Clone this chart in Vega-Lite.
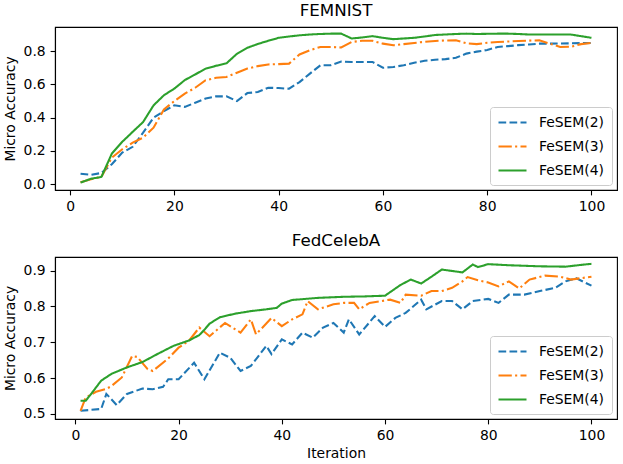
{
  "$schema": "https://vega.github.io/schema/vega-lite/v6.json",
  "padding": {"left": 2, "top": 2, "right": 5, "bottom": 3},
  "background": "white",
  "spacing": 17,
  "config": {
    "font": "DejaVu Sans",
    "view": {"stroke": "black", "strokeWidth": 1.1},
    "title": {"font": "DejaVu Sans", "fontSize": 16.7, "fontWeight": "normal", "color": "black", "offset": 7},
    "axis": {
      "grid": false, "domainColor": "black", "domainWidth": 1.1,
      "tickColor": "black", "tickSize": 4.9, "tickWidth": 1.1,
      "labelFont": "DejaVu Sans", "labelFontSize": 13.9, "labelColor": "black", "labelPadding": 4.9,
      "titleFont": "DejaVu Sans", "titleFontSize": 13.9, "titleFontWeight": "normal", "titleColor": "black"
    },
    "legend": {
      "orient": "bottom-right", "offset": 5.5, "title": null,
      "fillColor": "rgba(255,255,255,0.8)", "strokeColor": "#cccccc", "cornerRadius": 3, "padding": 7,
      "symbolType": "M-1,0H3", "symbolSize": 196, "symbolStrokeWidth": 2.08,
      "labelFont": "DejaVu Sans", "labelFontSize": 13.9, "labelColor": "black", "labelOffset": 25, "rowPadding": 8
    }
  },
  "data": {"values": [
    {"panel":"FEMNIST","method":"FeSEM(2)","iteration":2,"accuracy":0.063},
    {"panel":"FEMNIST","method":"FeSEM(2)","iteration":4,"accuracy":0.057},
    {"panel":"FEMNIST","method":"FeSEM(2)","iteration":6,"accuracy":0.068},
    {"panel":"FEMNIST","method":"FeSEM(2)","iteration":8,"accuracy":0.12},
    {"panel":"FEMNIST","method":"FeSEM(2)","iteration":10,"accuracy":0.19},
    {"panel":"FEMNIST","method":"FeSEM(2)","iteration":12,"accuracy":0.225},
    {"panel":"FEMNIST","method":"FeSEM(2)","iteration":14,"accuracy":0.31},
    {"panel":"FEMNIST","method":"FeSEM(2)","iteration":16,"accuracy":0.40},
    {"panel":"FEMNIST","method":"FeSEM(2)","iteration":18,"accuracy":0.44},
    {"panel":"FEMNIST","method":"FeSEM(2)","iteration":20,"accuracy":0.475},
    {"panel":"FEMNIST","method":"FeSEM(2)","iteration":22,"accuracy":0.465},
    {"panel":"FEMNIST","method":"FeSEM(2)","iteration":24,"accuracy":0.49},
    {"panel":"FEMNIST","method":"FeSEM(2)","iteration":26,"accuracy":0.515},
    {"panel":"FEMNIST","method":"FeSEM(2)","iteration":28,"accuracy":0.528},
    {"panel":"FEMNIST","method":"FeSEM(2)","iteration":30,"accuracy":0.528},
    {"panel":"FEMNIST","method":"FeSEM(2)","iteration":32,"accuracy":0.50},
    {"panel":"FEMNIST","method":"FeSEM(2)","iteration":34,"accuracy":0.548},
    {"panel":"FEMNIST","method":"FeSEM(2)","iteration":36,"accuracy":0.554},
    {"panel":"FEMNIST","method":"FeSEM(2)","iteration":38,"accuracy":0.58},
    {"panel":"FEMNIST","method":"FeSEM(2)","iteration":40,"accuracy":0.578},
    {"panel":"FEMNIST","method":"FeSEM(2)","iteration":42,"accuracy":0.574},
    {"panel":"FEMNIST","method":"FeSEM(2)","iteration":44,"accuracy":0.614},
    {"panel":"FEMNIST","method":"FeSEM(2)","iteration":46,"accuracy":0.665},
    {"panel":"FEMNIST","method":"FeSEM(2)","iteration":48,"accuracy":0.715},
    {"panel":"FEMNIST","method":"FeSEM(2)","iteration":50,"accuracy":0.715},
    {"panel":"FEMNIST","method":"FeSEM(2)","iteration":52,"accuracy":0.737},
    {"panel":"FEMNIST","method":"FeSEM(2)","iteration":54,"accuracy":0.735},
    {"panel":"FEMNIST","method":"FeSEM(2)","iteration":56,"accuracy":0.735},
    {"panel":"FEMNIST","method":"FeSEM(2)","iteration":58,"accuracy":0.735},
    {"panel":"FEMNIST","method":"FeSEM(2)","iteration":60,"accuracy":0.70},
    {"panel":"FEMNIST","method":"FeSEM(2)","iteration":62,"accuracy":0.705},
    {"panel":"FEMNIST","method":"FeSEM(2)","iteration":64,"accuracy":0.715},
    {"panel":"FEMNIST","method":"FeSEM(2)","iteration":66,"accuracy":0.73},
    {"panel":"FEMNIST","method":"FeSEM(2)","iteration":68,"accuracy":0.742},
    {"panel":"FEMNIST","method":"FeSEM(2)","iteration":70,"accuracy":0.748},
    {"panel":"FEMNIST","method":"FeSEM(2)","iteration":72,"accuracy":0.752},
    {"panel":"FEMNIST","method":"FeSEM(2)","iteration":74,"accuracy":0.76},
    {"panel":"FEMNIST","method":"FeSEM(2)","iteration":76,"accuracy":0.785},
    {"panel":"FEMNIST","method":"FeSEM(2)","iteration":78,"accuracy":0.797},
    {"panel":"FEMNIST","method":"FeSEM(2)","iteration":80,"accuracy":0.807},
    {"panel":"FEMNIST","method":"FeSEM(2)","iteration":82,"accuracy":0.825},
    {"panel":"FEMNIST","method":"FeSEM(2)","iteration":84,"accuracy":0.83},
    {"panel":"FEMNIST","method":"FeSEM(2)","iteration":86,"accuracy":0.836},
    {"panel":"FEMNIST","method":"FeSEM(2)","iteration":88,"accuracy":0.84},
    {"panel":"FEMNIST","method":"FeSEM(2)","iteration":90,"accuracy":0.845},
    {"panel":"FEMNIST","method":"FeSEM(2)","iteration":92,"accuracy":0.845},
    {"panel":"FEMNIST","method":"FeSEM(2)","iteration":94,"accuracy":0.846},
    {"panel":"FEMNIST","method":"FeSEM(2)","iteration":96,"accuracy":0.847},
    {"panel":"FEMNIST","method":"FeSEM(2)","iteration":98,"accuracy":0.848},
    {"panel":"FEMNIST","method":"FeSEM(2)","iteration":100,"accuracy":0.849},

    {"panel":"FEMNIST","method":"FeSEM(3)","iteration":2,"accuracy":0.012},
    {"panel":"FEMNIST","method":"FeSEM(3)","iteration":4,"accuracy":0.03},
    {"panel":"FEMNIST","method":"FeSEM(3)","iteration":6,"accuracy":0.045},
    {"panel":"FEMNIST","method":"FeSEM(3)","iteration":8,"accuracy":0.16},
    {"panel":"FEMNIST","method":"FeSEM(3)","iteration":10,"accuracy":0.21},
    {"panel":"FEMNIST","method":"FeSEM(3)","iteration":12,"accuracy":0.25},
    {"panel":"FEMNIST","method":"FeSEM(3)","iteration":14,"accuracy":0.28},
    {"panel":"FEMNIST","method":"FeSEM(3)","iteration":16,"accuracy":0.34},
    {"panel":"FEMNIST","method":"FeSEM(3)","iteration":18,"accuracy":0.45},
    {"panel":"FEMNIST","method":"FeSEM(3)","iteration":20,"accuracy":0.50},
    {"panel":"FEMNIST","method":"FeSEM(3)","iteration":22,"accuracy":0.545},
    {"panel":"FEMNIST","method":"FeSEM(3)","iteration":24,"accuracy":0.58},
    {"panel":"FEMNIST","method":"FeSEM(3)","iteration":26,"accuracy":0.625},
    {"panel":"FEMNIST","method":"FeSEM(3)","iteration":28,"accuracy":0.64},
    {"panel":"FEMNIST","method":"FeSEM(3)","iteration":30,"accuracy":0.645},
    {"panel":"FEMNIST","method":"FeSEM(3)","iteration":32,"accuracy":0.67},
    {"panel":"FEMNIST","method":"FeSEM(3)","iteration":34,"accuracy":0.695},
    {"panel":"FEMNIST","method":"FeSEM(3)","iteration":36,"accuracy":0.71},
    {"panel":"FEMNIST","method":"FeSEM(3)","iteration":38,"accuracy":0.72},
    {"panel":"FEMNIST","method":"FeSEM(3)","iteration":40,"accuracy":0.722},
    {"panel":"FEMNIST","method":"FeSEM(3)","iteration":42,"accuracy":0.725},
    {"panel":"FEMNIST","method":"FeSEM(3)","iteration":44,"accuracy":0.78},
    {"panel":"FEMNIST","method":"FeSEM(3)","iteration":46,"accuracy":0.805},
    {"panel":"FEMNIST","method":"FeSEM(3)","iteration":48,"accuracy":0.825},
    {"panel":"FEMNIST","method":"FeSEM(3)","iteration":50,"accuracy":0.825},
    {"panel":"FEMNIST","method":"FeSEM(3)","iteration":52,"accuracy":0.822},
    {"panel":"FEMNIST","method":"FeSEM(3)","iteration":54,"accuracy":0.855},
    {"panel":"FEMNIST","method":"FeSEM(3)","iteration":56,"accuracy":0.862},
    {"panel":"FEMNIST","method":"FeSEM(3)","iteration":58,"accuracy":0.862},
    {"panel":"FEMNIST","method":"FeSEM(3)","iteration":60,"accuracy":0.845},
    {"panel":"FEMNIST","method":"FeSEM(3)","iteration":62,"accuracy":0.835},
    {"panel":"FEMNIST","method":"FeSEM(3)","iteration":64,"accuracy":0.842},
    {"panel":"FEMNIST","method":"FeSEM(3)","iteration":66,"accuracy":0.849},
    {"panel":"FEMNIST","method":"FeSEM(3)","iteration":68,"accuracy":0.856},
    {"panel":"FEMNIST","method":"FeSEM(3)","iteration":70,"accuracy":0.861},
    {"panel":"FEMNIST","method":"FeSEM(3)","iteration":72,"accuracy":0.864},
    {"panel":"FEMNIST","method":"FeSEM(3)","iteration":74,"accuracy":0.865},
    {"panel":"FEMNIST","method":"FeSEM(3)","iteration":76,"accuracy":0.847},
    {"panel":"FEMNIST","method":"FeSEM(3)","iteration":78,"accuracy":0.842},
    {"panel":"FEMNIST","method":"FeSEM(3)","iteration":80,"accuracy":0.85},
    {"panel":"FEMNIST","method":"FeSEM(3)","iteration":82,"accuracy":0.855},
    {"panel":"FEMNIST","method":"FeSEM(3)","iteration":84,"accuracy":0.858},
    {"panel":"FEMNIST","method":"FeSEM(3)","iteration":86,"accuracy":0.861},
    {"panel":"FEMNIST","method":"FeSEM(3)","iteration":88,"accuracy":0.863},
    {"panel":"FEMNIST","method":"FeSEM(3)","iteration":90,"accuracy":0.865},
    {"panel":"FEMNIST","method":"FeSEM(3)","iteration":92,"accuracy":0.845},
    {"panel":"FEMNIST","method":"FeSEM(3)","iteration":94,"accuracy":0.825},
    {"panel":"FEMNIST","method":"FeSEM(3)","iteration":96,"accuracy":0.826},
    {"panel":"FEMNIST","method":"FeSEM(3)","iteration":98,"accuracy":0.842},
    {"panel":"FEMNIST","method":"FeSEM(3)","iteration":100,"accuracy":0.849},

    {"panel":"FEMNIST","method":"FeSEM(4)","iteration":2,"accuracy":0.01},
    {"panel":"FEMNIST","method":"FeSEM(4)","iteration":4,"accuracy":0.033},
    {"panel":"FEMNIST","method":"FeSEM(4)","iteration":6,"accuracy":0.044},
    {"panel":"FEMNIST","method":"FeSEM(4)","iteration":8,"accuracy":0.184},
    {"panel":"FEMNIST","method":"FeSEM(4)","iteration":10,"accuracy":0.255},
    {"panel":"FEMNIST","method":"FeSEM(4)","iteration":12,"accuracy":0.315},
    {"panel":"FEMNIST","method":"FeSEM(4)","iteration":14,"accuracy":0.374},
    {"panel":"FEMNIST","method":"FeSEM(4)","iteration":16,"accuracy":0.474},
    {"panel":"FEMNIST","method":"FeSEM(4)","iteration":18,"accuracy":0.535},
    {"panel":"FEMNIST","method":"FeSEM(4)","iteration":20,"accuracy":0.575},
    {"panel":"FEMNIST","method":"FeSEM(4)","iteration":22,"accuracy":0.626},
    {"panel":"FEMNIST","method":"FeSEM(4)","iteration":24,"accuracy":0.66},
    {"panel":"FEMNIST","method":"FeSEM(4)","iteration":26,"accuracy":0.695},
    {"panel":"FEMNIST","method":"FeSEM(4)","iteration":28,"accuracy":0.712},
    {"panel":"FEMNIST","method":"FeSEM(4)","iteration":30,"accuracy":0.727},
    {"panel":"FEMNIST","method":"FeSEM(4)","iteration":32,"accuracy":0.784},
    {"panel":"FEMNIST","method":"FeSEM(4)","iteration":34,"accuracy":0.82},
    {"panel":"FEMNIST","method":"FeSEM(4)","iteration":36,"accuracy":0.843},
    {"panel":"FEMNIST","method":"FeSEM(4)","iteration":38,"accuracy":0.862},
    {"panel":"FEMNIST","method":"FeSEM(4)","iteration":40,"accuracy":0.88},
    {"panel":"FEMNIST","method":"FeSEM(4)","iteration":42,"accuracy":0.888},
    {"panel":"FEMNIST","method":"FeSEM(4)","iteration":44,"accuracy":0.895},
    {"panel":"FEMNIST","method":"FeSEM(4)","iteration":46,"accuracy":0.9},
    {"panel":"FEMNIST","method":"FeSEM(4)","iteration":48,"accuracy":0.903},
    {"panel":"FEMNIST","method":"FeSEM(4)","iteration":50,"accuracy":0.905},
    {"panel":"FEMNIST","method":"FeSEM(4)","iteration":52,"accuracy":0.905},
    {"panel":"FEMNIST","method":"FeSEM(4)","iteration":54,"accuracy":0.876},
    {"panel":"FEMNIST","method":"FeSEM(4)","iteration":56,"accuracy":0.882},
    {"panel":"FEMNIST","method":"FeSEM(4)","iteration":58,"accuracy":0.89},
    {"panel":"FEMNIST","method":"FeSEM(4)","iteration":60,"accuracy":0.88},
    {"panel":"FEMNIST","method":"FeSEM(4)","iteration":62,"accuracy":0.872},
    {"panel":"FEMNIST","method":"FeSEM(4)","iteration":64,"accuracy":0.876},
    {"panel":"FEMNIST","method":"FeSEM(4)","iteration":66,"accuracy":0.88},
    {"panel":"FEMNIST","method":"FeSEM(4)","iteration":68,"accuracy":0.888},
    {"panel":"FEMNIST","method":"FeSEM(4)","iteration":70,"accuracy":0.897},
    {"panel":"FEMNIST","method":"FeSEM(4)","iteration":72,"accuracy":0.9},
    {"panel":"FEMNIST","method":"FeSEM(4)","iteration":74,"accuracy":0.903},
    {"panel":"FEMNIST","method":"FeSEM(4)","iteration":76,"accuracy":0.905},
    {"panel":"FEMNIST","method":"FeSEM(4)","iteration":78,"accuracy":0.903},
    {"panel":"FEMNIST","method":"FeSEM(4)","iteration":80,"accuracy":0.904},
    {"panel":"FEMNIST","method":"FeSEM(4)","iteration":82,"accuracy":0.905},
    {"panel":"FEMNIST","method":"FeSEM(4)","iteration":84,"accuracy":0.905},
    {"panel":"FEMNIST","method":"FeSEM(4)","iteration":86,"accuracy":0.903},
    {"panel":"FEMNIST","method":"FeSEM(4)","iteration":88,"accuracy":0.9},
    {"panel":"FEMNIST","method":"FeSEM(4)","iteration":90,"accuracy":0.9},
    {"panel":"FEMNIST","method":"FeSEM(4)","iteration":92,"accuracy":0.9},
    {"panel":"FEMNIST","method":"FeSEM(4)","iteration":94,"accuracy":0.9},
    {"panel":"FEMNIST","method":"FeSEM(4)","iteration":96,"accuracy":0.9},
    {"panel":"FEMNIST","method":"FeSEM(4)","iteration":98,"accuracy":0.89},
    {"panel":"FEMNIST","method":"FeSEM(4)","iteration":100,"accuracy":0.88},

    {"panel":"FedCelebA","method":"FeSEM(2)","iteration":1,"accuracy":0.509},
    {"panel":"FedCelebA","method":"FeSEM(2)","iteration":5,"accuracy":0.514},
    {"panel":"FedCelebA","method":"FeSEM(2)","iteration":6,"accuracy":0.556},
    {"panel":"FedCelebA","method":"FeSEM(2)","iteration":8,"accuracy":0.525},
    {"panel":"FedCelebA","method":"FeSEM(2)","iteration":10,"accuracy":0.556},
    {"panel":"FedCelebA","method":"FeSEM(2)","iteration":13,"accuracy":0.571},
    {"panel":"FedCelebA","method":"FeSEM(2)","iteration":15,"accuracy":0.569},
    {"panel":"FedCelebA","method":"FeSEM(2)","iteration":17,"accuracy":0.576},
    {"panel":"FedCelebA","method":"FeSEM(2)","iteration":18,"accuracy":0.597},
    {"panel":"FedCelebA","method":"FeSEM(2)","iteration":20,"accuracy":0.597},
    {"panel":"FedCelebA","method":"FeSEM(2)","iteration":23,"accuracy":0.643},
    {"panel":"FedCelebA","method":"FeSEM(2)","iteration":25,"accuracy":0.597},
    {"panel":"FedCelebA","method":"FeSEM(2)","iteration":28,"accuracy":0.671},
    {"panel":"FedCelebA","method":"FeSEM(2)","iteration":30,"accuracy":0.657},
    {"panel":"FedCelebA","method":"FeSEM(2)","iteration":32,"accuracy":0.62},
    {"panel":"FedCelebA","method":"FeSEM(2)","iteration":34,"accuracy":0.634},
    {"panel":"FedCelebA","method":"FeSEM(2)","iteration":37,"accuracy":0.69},
    {"panel":"FedCelebA","method":"FeSEM(2)","iteration":38,"accuracy":0.667},
    {"panel":"FedCelebA","method":"FeSEM(2)","iteration":40,"accuracy":0.708},
    {"panel":"FedCelebA","method":"FeSEM(2)","iteration":42,"accuracy":0.694},
    {"panel":"FedCelebA","method":"FeSEM(2)","iteration":44,"accuracy":0.727},
    {"panel":"FedCelebA","method":"FeSEM(2)","iteration":46,"accuracy":0.713},
    {"panel":"FedCelebA","method":"FeSEM(2)","iteration":48,"accuracy":0.741},
    {"panel":"FedCelebA","method":"FeSEM(2)","iteration":50,"accuracy":0.754},
    {"panel":"FedCelebA","method":"FeSEM(2)","iteration":52,"accuracy":0.727},
    {"panel":"FedCelebA","method":"FeSEM(2)","iteration":53,"accuracy":0.764},
    {"panel":"FedCelebA","method":"FeSEM(2)","iteration":55,"accuracy":0.722},
    {"panel":"FedCelebA","method":"FeSEM(2)","iteration":58,"accuracy":0.773},
    {"panel":"FedCelebA","method":"FeSEM(2)","iteration":60,"accuracy":0.743},
    {"panel":"FedCelebA","method":"FeSEM(2)","iteration":62,"accuracy":0.768},
    {"panel":"FedCelebA","method":"FeSEM(2)","iteration":64,"accuracy":0.782},
    {"panel":"FedCelebA","method":"FeSEM(2)","iteration":67,"accuracy":0.819},
    {"panel":"FedCelebA","method":"FeSEM(2)","iteration":68,"accuracy":0.792},
    {"panel":"FedCelebA","method":"FeSEM(2)","iteration":71,"accuracy":0.815},
    {"panel":"FedCelebA","method":"FeSEM(2)","iteration":73,"accuracy":0.815},
    {"panel":"FedCelebA","method":"FeSEM(2)","iteration":75,"accuracy":0.792},
    {"panel":"FedCelebA","method":"FeSEM(2)","iteration":77,"accuracy":0.815},
    {"panel":"FedCelebA","method":"FeSEM(2)","iteration":80,"accuracy":0.821},
    {"panel":"FedCelebA","method":"FeSEM(2)","iteration":82,"accuracy":0.81},
    {"panel":"FedCelebA","method":"FeSEM(2)","iteration":84,"accuracy":0.833},
    {"panel":"FedCelebA","method":"FeSEM(2)","iteration":87,"accuracy":0.833},
    {"panel":"FedCelebA","method":"FeSEM(2)","iteration":90,"accuracy":0.843},
    {"panel":"FedCelebA","method":"FeSEM(2)","iteration":93,"accuracy":0.852},
    {"panel":"FedCelebA","method":"FeSEM(2)","iteration":95,"accuracy":0.87},
    {"panel":"FedCelebA","method":"FeSEM(2)","iteration":97,"accuracy":0.879},
    {"panel":"FedCelebA","method":"FeSEM(2)","iteration":100,"accuracy":0.858},

    {"panel":"FedCelebA","method":"FeSEM(3)","iteration":1,"accuracy":0.509},
    {"panel":"FedCelebA","method":"FeSEM(3)","iteration":2,"accuracy":0.546},
    {"panel":"FedCelebA","method":"FeSEM(3)","iteration":4,"accuracy":0.562},
    {"panel":"FedCelebA","method":"FeSEM(3)","iteration":6,"accuracy":0.57},
    {"panel":"FedCelebA","method":"FeSEM(3)","iteration":7,"accuracy":0.578},
    {"panel":"FedCelebA","method":"FeSEM(3)","iteration":9,"accuracy":0.602},
    {"panel":"FedCelebA","method":"FeSEM(3)","iteration":11,"accuracy":0.662},
    {"panel":"FedCelebA","method":"FeSEM(3)","iteration":12,"accuracy":0.659},
    {"panel":"FedCelebA","method":"FeSEM(3)","iteration":14,"accuracy":0.625},
    {"panel":"FedCelebA","method":"FeSEM(3)","iteration":15,"accuracy":0.62},
    {"panel":"FedCelebA","method":"FeSEM(3)","iteration":18,"accuracy":0.655},
    {"panel":"FedCelebA","method":"FeSEM(3)","iteration":20,"accuracy":0.685},
    {"panel":"FedCelebA","method":"FeSEM(3)","iteration":22,"accuracy":0.704},
    {"panel":"FedCelebA","method":"FeSEM(3)","iteration":24,"accuracy":0.741},
    {"panel":"FedCelebA","method":"FeSEM(3)","iteration":26,"accuracy":0.717},
    {"panel":"FedCelebA","method":"FeSEM(3)","iteration":29,"accuracy":0.754},
    {"panel":"FedCelebA","method":"FeSEM(3)","iteration":32,"accuracy":0.727},
    {"panel":"FedCelebA","method":"FeSEM(3)","iteration":34,"accuracy":0.764},
    {"panel":"FedCelebA","method":"FeSEM(3)","iteration":35,"accuracy":0.722},
    {"panel":"FedCelebA","method":"FeSEM(3)","iteration":38,"accuracy":0.768},
    {"panel":"FedCelebA","method":"FeSEM(3)","iteration":40,"accuracy":0.745},
    {"panel":"FedCelebA","method":"FeSEM(3)","iteration":42,"accuracy":0.764},
    {"panel":"FedCelebA","method":"FeSEM(3)","iteration":44,"accuracy":0.778},
    {"panel":"FedCelebA","method":"FeSEM(3)","iteration":45,"accuracy":0.815},
    {"panel":"FedCelebA","method":"FeSEM(3)","iteration":47,"accuracy":0.792},
    {"panel":"FedCelebA","method":"FeSEM(3)","iteration":50,"accuracy":0.806},
    {"panel":"FedCelebA","method":"FeSEM(3)","iteration":52,"accuracy":0.81},
    {"panel":"FedCelebA","method":"FeSEM(3)","iteration":54,"accuracy":0.81},
    {"panel":"FedCelebA","method":"FeSEM(3)","iteration":55,"accuracy":0.792},
    {"panel":"FedCelebA","method":"FeSEM(3)","iteration":57,"accuracy":0.81},
    {"panel":"FedCelebA","method":"FeSEM(3)","iteration":61,"accuracy":0.819},
    {"panel":"FedCelebA","method":"FeSEM(3)","iteration":63,"accuracy":0.81},
    {"panel":"FedCelebA","method":"FeSEM(3)","iteration":64,"accuracy":0.833},
    {"panel":"FedCelebA","method":"FeSEM(3)","iteration":67,"accuracy":0.83},
    {"panel":"FedCelebA","method":"FeSEM(3)","iteration":69,"accuracy":0.843},
    {"panel":"FedCelebA","method":"FeSEM(3)","iteration":71,"accuracy":0.843},
    {"panel":"FedCelebA","method":"FeSEM(3)","iteration":73,"accuracy":0.852},
    {"panel":"FedCelebA","method":"FeSEM(3)","iteration":75,"accuracy":0.87},
    {"panel":"FedCelebA","method":"FeSEM(3)","iteration":76,"accuracy":0.882},
    {"panel":"FedCelebA","method":"FeSEM(3)","iteration":78,"accuracy":0.873},
    {"panel":"FedCelebA","method":"FeSEM(3)","iteration":80,"accuracy":0.867},
    {"panel":"FedCelebA","method":"FeSEM(3)","iteration":82,"accuracy":0.856},
    {"panel":"FedCelebA","method":"FeSEM(3)","iteration":84,"accuracy":0.87},
    {"panel":"FedCelebA","method":"FeSEM(3)","iteration":86,"accuracy":0.85},
    {"panel":"FedCelebA","method":"FeSEM(3)","iteration":88,"accuracy":0.875},
    {"panel":"FedCelebA","method":"FeSEM(3)","iteration":91,"accuracy":0.886},
    {"panel":"FedCelebA","method":"FeSEM(3)","iteration":94,"accuracy":0.883},
    {"panel":"FedCelebA","method":"FeSEM(3)","iteration":96,"accuracy":0.875},
    {"panel":"FedCelebA","method":"FeSEM(3)","iteration":98,"accuracy":0.879},
    {"panel":"FedCelebA","method":"FeSEM(3)","iteration":100,"accuracy":0.883},

    {"panel":"FedCelebA","method":"FeSEM(4)","iteration":1,"accuracy":0.537},
    {"panel":"FedCelebA","method":"FeSEM(4)","iteration":2,"accuracy":0.537},
    {"panel":"FedCelebA","method":"FeSEM(4)","iteration":3,"accuracy":0.555},
    {"panel":"FedCelebA","method":"FeSEM(4)","iteration":5,"accuracy":0.593},
    {"panel":"FedCelebA","method":"FeSEM(4)","iteration":7,"accuracy":0.612},
    {"panel":"FedCelebA","method":"FeSEM(4)","iteration":10,"accuracy":0.63},
    {"panel":"FedCelebA","method":"FeSEM(4)","iteration":13,"accuracy":0.645},
    {"panel":"FedCelebA","method":"FeSEM(4)","iteration":16,"accuracy":0.668},
    {"panel":"FedCelebA","method":"FeSEM(4)","iteration":19,"accuracy":0.69},
    {"panel":"FedCelebA","method":"FeSEM(4)","iteration":22,"accuracy":0.705},
    {"panel":"FedCelebA","method":"FeSEM(4)","iteration":24,"accuracy":0.72},
    {"panel":"FedCelebA","method":"FeSEM(4)","iteration":25,"accuracy":0.735},
    {"panel":"FedCelebA","method":"FeSEM(4)","iteration":26,"accuracy":0.752},
    {"panel":"FedCelebA","method":"FeSEM(4)","iteration":28,"accuracy":0.77},
    {"panel":"FedCelebA","method":"FeSEM(4)","iteration":31,"accuracy":0.78},
    {"panel":"FedCelebA","method":"FeSEM(4)","iteration":34,"accuracy":0.787},
    {"panel":"FedCelebA","method":"FeSEM(4)","iteration":37,"accuracy":0.792},
    {"panel":"FedCelebA","method":"FeSEM(4)","iteration":39,"accuracy":0.796},
    {"panel":"FedCelebA","method":"FeSEM(4)","iteration":40,"accuracy":0.808},
    {"panel":"FedCelebA","method":"FeSEM(4)","iteration":42,"accuracy":0.818},
    {"panel":"FedCelebA","method":"FeSEM(4)","iteration":47,"accuracy":0.824},
    {"panel":"FedCelebA","method":"FeSEM(4)","iteration":52,"accuracy":0.827},
    {"panel":"FedCelebA","method":"FeSEM(4)","iteration":56,"accuracy":0.828},
    {"panel":"FedCelebA","method":"FeSEM(4)","iteration":60,"accuracy":0.83},
    {"panel":"FedCelebA","method":"FeSEM(4)","iteration":63,"accuracy":0.86},
    {"panel":"FedCelebA","method":"FeSEM(4)","iteration":65,"accuracy":0.875},
    {"panel":"FedCelebA","method":"FeSEM(4)","iteration":67,"accuracy":0.864},
    {"panel":"FedCelebA","method":"FeSEM(4)","iteration":69,"accuracy":0.883},
    {"panel":"FedCelebA","method":"FeSEM(4)","iteration":71,"accuracy":0.903},
    {"panel":"FedCelebA","method":"FeSEM(4)","iteration":75,"accuracy":0.895},
    {"panel":"FedCelebA","method":"FeSEM(4)","iteration":77,"accuracy":0.917},
    {"panel":"FedCelebA","method":"FeSEM(4)","iteration":78,"accuracy":0.91},
    {"panel":"FedCelebA","method":"FeSEM(4)","iteration":80,"accuracy":0.918},
    {"panel":"FedCelebA","method":"FeSEM(4)","iteration":84,"accuracy":0.915},
    {"panel":"FedCelebA","method":"FeSEM(4)","iteration":90,"accuracy":0.912},
    {"panel":"FedCelebA","method":"FeSEM(4)","iteration":95,"accuracy":0.911},
    {"panel":"FedCelebA","method":"FeSEM(4)","iteration":98,"accuracy":0.916},
    {"panel":"FedCelebA","method":"FeSEM(4)","iteration":100,"accuracy":0.919}
  ]},
  "resolve": {
    "scale": {"color": "independent", "strokeDash": "independent"},
    "legend": {"color": "independent", "strokeDash": "independent"}
  },
  "vconcat": [
    {
      "title": "FEMNIST",
      "width": 562,
      "height": 163,
      "transform": [{"filter": "datum.panel === 'FEMNIST'"}],
      "mark": {"type": "line", "strokeWidth": 2.08},
      "encoding": {
        "x": {"field": "iteration", "type": "quantitative", "scale": {"domain": [-2.9, 104.9], "nice": false, "zero": false},
              "axis": {"values": [0, 20, 40, 60, 80, 100], "title": null}},
        "y": {"field": "accuracy", "type": "quantitative", "scale": {"domain": [-0.0345, 0.945], "nice": false, "zero": false},
              "axis": {"values": [0, 0.2, 0.4, 0.6, 0.8], "format": ".1f", "title": "Micro Accuracy", "titlePadding": 6}},
        "color": {"field": "method", "type": "nominal", "scale": {"domain": ["FeSEM(2)", "FeSEM(3)", "FeSEM(4)"], "range": ["#1f77b4", "#ff7f0e", "#2ca02c"]}},
        "strokeDash": {"field": "method", "type": "nominal", "scale": {"domain": ["FeSEM(2)", "FeSEM(3)", "FeSEM(4)"], "range": [[7.7, 3.3], [13.3, 3.3, 2.1, 3.3], [1, 0]]}}
      }
    },
    {
      "title": "FedCelebA",
      "width": 562,
      "height": 162,
      "transform": [{"filter": "datum.panel === 'FedCelebA'"}],
      "mark": {"type": "line", "strokeWidth": 2.08},
      "encoding": {
        "x": {"field": "iteration", "type": "quantitative", "scale": {"domain": [-3.95, 104.95], "nice": false, "zero": false},
              "axis": {"values": [0, 20, 40, 60, 80, 100], "title": "Iteration", "titlePadding": 4}},
        "y": {"field": "accuracy", "type": "quantitative", "scale": {"domain": [0.486, 0.938], "nice": false, "zero": false},
              "axis": {"values": [0.5, 0.6, 0.7, 0.8, 0.9], "format": ".1f", "title": "Micro Accuracy", "titlePadding": 6}},
        "color": {"field": "method", "type": "nominal", "scale": {"domain": ["FeSEM(2)", "FeSEM(3)", "FeSEM(4)"], "range": ["#1f77b4", "#ff7f0e", "#2ca02c"]}},
        "strokeDash": {"field": "method", "type": "nominal", "scale": {"domain": ["FeSEM(2)", "FeSEM(3)", "FeSEM(4)"], "range": [[7.7, 3.3], [13.3, 3.3, 2.1, 3.3], [1, 0]]}}
      }
    }
  ]
}
